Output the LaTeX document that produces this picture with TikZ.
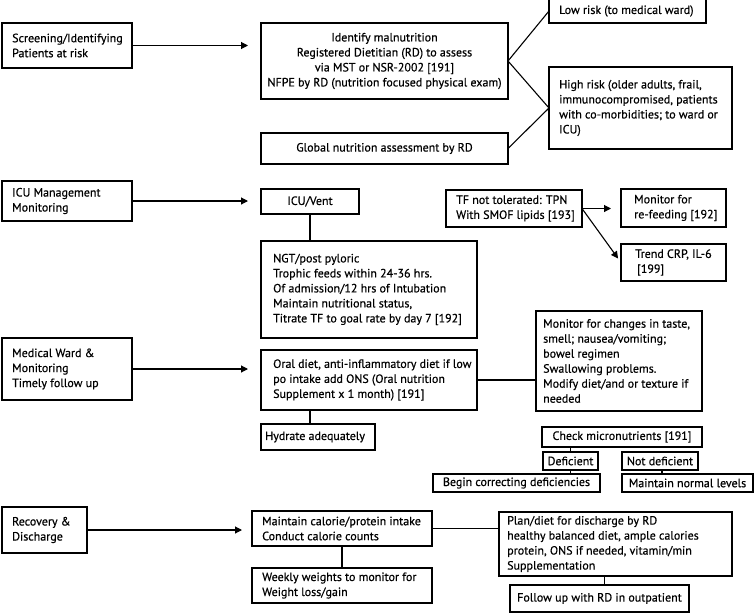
\documentclass[tikz,border=0pt]{standalone}
\usepackage{fontspec}
\setmainfont{PT Sans}[FakeBold=0.5]
\usetikzlibrary{arrows.meta,calc}
\tikzset{
  boxst/.style={draw, line width=1.1pt, fill=white, inner sep=0pt, outer sep=0pt},
  txt/.style={inner sep=0pt, font=\fontsize{12}{15}\selectfont},
  conn/.style={line width=1.1pt},
  arr/.style={line width=1.1pt, -{Triangle[length=7pt,width=7pt]}},
}
% name x1 y1 x2 y2 pad text
\newcommand\lbox[7]{%
  \node[boxst, minimum width={(#4-#2)*1pt}, minimum height={(#5-#3)*1pt}] (#1) at ({(#2+#4)/2},{(#3+#5)/2}) {};
  \node[txt, align=left, anchor=west] (#1-t) at ([xshift=#6pt]#1.west) {#7};}
% name x1 y1 x2 y2 text
\newcommand\cbox[6]{%
  \node[boxst, minimum width={(#4-#2)*1pt}, minimum height={(#5-#3)*1pt}] (#1) at ({(#2+#4)/2},{(#3+#5)/2}) {};
  \node[txt, align=center] (#1-t) at (#1.center) {#6};}
\begin{document}
\begin{tikzpicture}[x=1pt, y=-1pt]
\useasboundingbox[fill=white] (0,0) rectangle (755,613);
% row 1
\lbox{scr}{2}{23}{132}{68}{10}{Screening/Identifying\\Patients at risk}
\cbox{idm}{261}{23}{508}{99}{Identify malnutrition\\Registered Dietitian (RD) to assess\\via MST or NSR-2002 [191]\\NFPE by RD (nutrition focused physical exam)}
\cbox{glob}{261}{133}{508}{164}{Global nutrition assessment by RD}
\lbox{low}{549}{-1}{706}{23}{10}{Low risk (to medical ward)}
\lbox{high}{549}{67}{732}{149}{10}{High risk (older adults, frail,\\immunocompromised, patients\\with co-morbidities; to ward or\\ICU)}
% row 2
\lbox{icum}{2}{181}{132}{221}{10}{ICU Management\\Monitoring}
\cbox{icuv}{261}{189}{359}{214}{ICU/Vent}
\lbox{ngt}{261}{241}{477}{338}{12}{NGT/post pyloric\\Trophic feeds within 24-36 hrs.\\Of admission/12 hrs of Intubation\\Maintain nutritional status,\\Titrate TF to goal rate by day 7 [192]}
\lbox{tf}{446}{190}{582}{227}{10}{TF not tolerated: TPN\\With SMOF lipids [193]}
\lbox{mrf}{621}{189}{726}{227}{13}{Monitor for\\re-feeding [192]}
\lbox{crp}{621}{244}{726}{281}{14}{Trend CRP, IL-6\\\hspace{2pt}[199]}
% row 3
\lbox{med}{2}{338}{132}{400}{10}{Medical Ward \&\\Monitoring\\Timely follow up}
\lbox{oral}{261}{350}{477}{410}{12}{Oral diet, anti-inflammatory diet if low\\po intake add ONS (Oral nutrition\\Supplement x 1 month) [191]}
\lbox{hyd}{261}{424}{375}{450}{4}{Hydrate adequately}
\lbox{mon}{536}{311}{702}{411}{7}{Monitor for changes in taste,\\smell; nausea/vomiting;\\bowel regimen\\Swallowing problems.\\Modify diet/and or texture if\\needed}
\cbox{chk}{542}{427}{702}{447}{Check micronutrients [191]}
\cbox{def}{543}{452}{598}{470}{Deficient}
\cbox{nd}{622}{452}{698}{470}{Not deficient}
\cbox{beg}{433}{474}{600}{492}{Begin correcting deficiencies}
\cbox{mnl}{622}{474}{753}{492}{Maintain normal levels}
% row 4
\lbox{rec}{2}{507}{87}{553}{10}{Recovery \&\\Discharge}
\lbox{mc}{252}{511}{432}{546}{10}{Maintain calorie/protein intake\\Conduct calorie counts}
\lbox{ww}{252}{568}{432}{603}{10}{Weekly weights to monitor for\\Weight loss/gain}
\lbox{plan}{499}{512}{732}{576}{8}{Plan/diet for discharge by RD\\healthy balanced diet, ample calories\\protein, ONS if needed, vitamin/min\\Supplementation}
\cbox{fu}{510}{585}{689}{612}{Follow up with RD in outpatient}
% connectors
\draw[arr, shorten >=13pt] (scr.east) -- (scr.east -| idm.west);
\draw[conn] (idm.east) -- (low.west);
\draw[conn] (idm.east) -- (high.west);
\draw[conn] (glob.east) -- (high.west);
\draw[arr, shorten >=13pt] (icum.east) -- (icum.east -| icuv.west);
\draw[conn] (icuv.south) -- (ngt.north -| icuv.south);
\draw[arr, shorten >=10pt] (tf.east) -- (tf.east -| mrf.west);
\draw[arr, shorten >=5pt] (tf.east) -- (crp.west);
\draw[arr, shorten >=13pt] (med.east) -- (med.east -| oral.west);
\draw[conn] (oral.south -| icuv.south) -- (hyd.north -| icuv.south);
\draw[conn] (oral.east) -- (oral.east -| mon.west);
\draw[conn] (chk.south -| def.north) -- (def.north);
\draw[conn] (def.south) -- (def.south |- beg.north);
\draw[conn] ([xshift=2pt]nd.south) -- ([xshift=2pt]nd.south |- mnl.north);
\draw[arr, shorten >=10pt] (rec.east) -- (rec.east -| mc.west);
\draw[conn] (mc.south) -- (ww.north);
\draw[conn] (mc.east) -- (mc.east -| plan.west);
\draw[conn] ([xshift=5pt]fu.north) -- ([xshift=5pt]fu.north |- plan.south);
\end{tikzpicture}
\end{document}
